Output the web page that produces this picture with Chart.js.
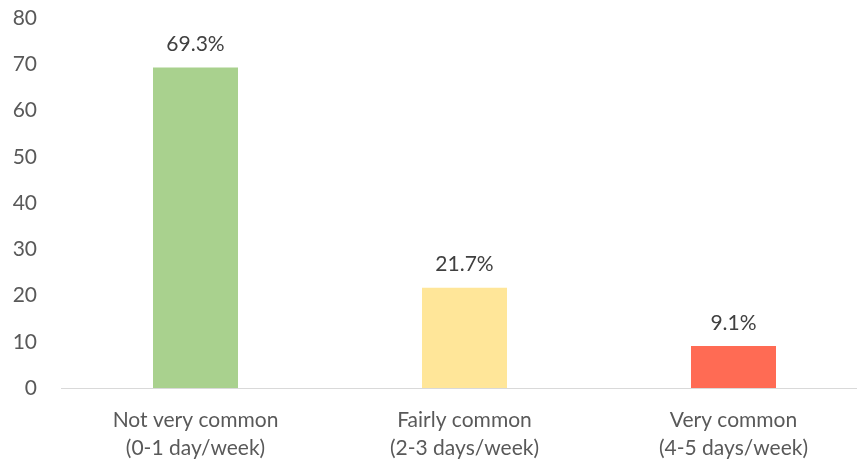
<!DOCTYPE html>
<html>
<head>
<meta charset="utf-8">
<script src="https://cdn.jsdelivr.net/npm/chart.js@4"></script>
<style>
  html, body { margin: 0; padding: 0; background: #fff; overflow: hidden; }
  #wrap { width: 868px; height: 463px; }
</style>
</head>
<body>
<div id="wrap"><canvas id="chart"></canvas></div>
<script>
const categories = [
  ['Not very common', '(0-1 day/week)'],
  ['Fairly common', '(2-3 days/week)'],
  ['Very common', '(4-5 days/week)']
];
const percents = [69.3, 21.7, 9.1];
const barColors = ['#A9D18E', '#FFE699', '#FF6B54'];
const yTicks = [0, 10, 20, 30, 40, 50, 60, 70, 80];

const fontFamily = 'Lato, "Open Sans", sans-serif';

// draws the % labels above each bar
const valueLabels = {
  id: 'valueLabels',
  afterDatasetsDraw(chart) {
    const ctx = chart.ctx;
    const meta = chart.getDatasetMeta(0);
    ctx.save();
    ctx.font = '21px ' + fontFamily;
    ctx.fillStyle = '#404040';
    ctx.textAlign = 'center';
    ctx.textBaseline = 'middle';
    meta.data.forEach((bar, i) => {
      ctx.fillText(percents[i].toFixed(1) + '%', bar.x, bar.y - 23);
    });
    ctx.restore();
  }
};

new Chart(document.getElementById('chart').getContext('2d'), {
  type: 'bar',
  data: {
    labels: categories,
    datasets: [{
      data: percents,
      backgroundColor: barColors,
      categoryPercentage: 1,
      barPercentage: 0.316
    }]
  },
  options: {
    responsive: true,
    maintainAspectRatio: false,
    animation: false,
    layout: { padding: { top: 18, left: 0, right: 0, bottom: 0 } },
    plugins: { legend: { display: false }, tooltip: { enabled: false } },
    scales: {
      x: {
        grid: { display: false },
        border: { color: '#D9D9D9', width: 1 },
        ticks: {
          color: '#595959',
          font: { family: fontFamily, size: 21, lineHeight: 1.35 },
          padding: 10,
          maxRotation: 0
        },
        afterFit(scale) { scale.height = 75; }
      },
      y: {
        min: 0,
        max: 80,
        afterBuildTicks(scale) { scale.ticks = yTicks.map(v => ({ value: v })); },
        grid: { display: false },
        border: { display: false },
        ticks: {
          color: '#595959',
          font: { family: fontFamily, size: 21 },
          padding: 16
        },
        afterFit(scale) {
          // fixed axis width; drop the extra top padding chart.js adds
          scale.width = 61;
          scale.paddingTop = 0;
          scale.paddingBottom = 0;
        }
      }
    }
  },
  plugins: [valueLabels]
});
</script>
</body>
</html>
